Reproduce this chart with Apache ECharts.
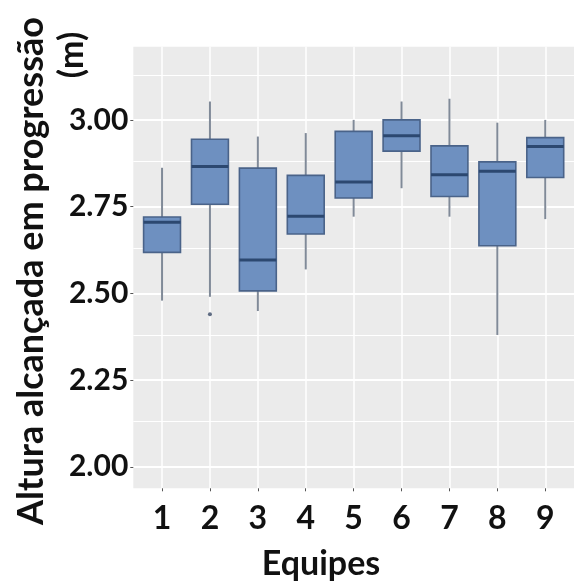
<!DOCTYPE html>
<html>
<head>
<meta charset="utf-8">
<script src="https://cdn.jsdelivr.net/npm/echarts@6/dist/echarts.min.js"></script>
<style>
html,body{margin:0;padding:0;background:#fff;}
#chart{width:574px;height:581px;}
</style>
</head>
<body>
<div id="chart"></div>
<script>
// ---- data ----
const teams = [1, 2, 3, 4, 5, 6, 7, 8, 9];
const whiskerLow  = [2.479, 2.490, 2.449, 2.569, 2.721, 2.803, 2.721, 2.380, 2.714];
const q1          = [2.618, 2.757, 2.507, 2.671, 2.775, 2.910, 2.779, 2.637, 2.834];
const medians     = [2.705, 2.866, 2.596, 2.722, 2.821, 2.954, 2.842, 2.852, 2.923];
const q3          = [2.720, 2.944, 2.861, 2.840, 2.967, 3.000, 2.925, 2.879, 2.949];
const whiskerHigh = [2.862, 3.053, 2.952, 2.962, 3.000, 3.053, 3.061, 2.992, 3.000];
const outlierTeams  = [2];
const outlierValues = [2.440];
const yTicks = [2.00, 2.25, 2.50, 2.75, 3.00];
const yMinorTicks = [2.125, 2.375, 2.625, 2.875, 3.125];
const yTitle1 = 'Altura alcançada em progressão';
const yTitle2 = '(m)';
const xTitle = 'Equipes';

const boxData = teams.map((t, i) => [t, whiskerLow[i], q1[i], medians[i], q3[i], whiskerHigh[i]]);
const outlierData = outlierTeams.map((t, i) => [t, outlierValues[i]]);

const FONT = 'Lato, "Open Sans", sans-serif';
const chart = echarts.init(document.getElementById('chart'), null, {renderer: 'canvas'});

const option = {
  backgroundColor: '#ffffff',
  animation: false,
  grid: {
    left: 133.3, top: 46.7, width: 451.9, bottom: 92.7,
    show: true, backgroundColor: '#ebebeb', borderWidth: 0
  },
  xAxis: {
    type: 'value', min: 0.4, max: 9.6,
    axisLine: {show: false},
    axisTick: {show: true, length: 3, lineStyle: {color: '#555', width: 1}, customValues: teams},
    axisLabel: {
      customValues: teams, margin: 14,
      fontFamily: FONT, fontWeight: 'bold', fontSize: 32, color: '#111'
    },
    splitLine: {show: true, lineStyle: {color: '#ffffff', width: 1.5}}
  },
  yAxis: {
    type: 'value', min: 1.938, max: 3.211,
    axisLine: {show: false},
    axisTick: {show: true, length: 3, lineStyle: {color: '#555', width: 1}, customValues: yTicks},
    axisLabel: {
      customValues: yTicks, margin: 5,
      formatter: v => v.toFixed(2),
      fontFamily: FONT, fontWeight: 'bold', fontSize: 30, color: '#111'
    },
    splitLine: {show: true, lineStyle: {color: '#ffffff', width: 2}}
  },
  series: [
    {
      type: 'scatter',
      z: 1,
      data: outlierData,
      symbolSize: 4,
      itemStyle: {color: '#3a4a66'},
      markLine: {
        z: 1,
        silent: true,
        animation: false,
        symbol: ['none', 'none'],
        label: {show: false},
        lineStyle: {color: '#ffffff', width: 1, type: 'solid'},
        emphasis: {disabled: true},
        data: yMinorTicks.map(v => ({yAxis: v}))
      }
    },
    {
      type: 'custom',
      z: 4,
      data: boxData,
      encode: {x: 0, y: [1, 2, 3, 4, 5]},
      clip: false,
      renderItem: function (params, api) {
        const x = api.value(0);
        const pLo = api.coord([x, api.value(1)]);
        const pQ1 = api.coord([x, api.value(2)]);
        const pMed = api.coord([x, api.value(3)]);
        const pQ3 = api.coord([x, api.value(4)]);
        const pHi = api.coord([x, api.value(5)]);
        const w = api.size([0.77, 0])[0];
        const cx = pQ1[0];
        return {
          type: 'group',
          children: [
            {type: 'line', shape: {x1: cx, y1: pLo[1], x2: cx, y2: pQ1[1]},
             style: {stroke: '#808a98', lineWidth: 2}},
            {type: 'line', shape: {x1: cx, y1: pQ3[1], x2: cx, y2: pHi[1]},
             style: {stroke: '#808a98', lineWidth: 2}},
            {type: 'rect', shape: {x: cx - w / 2, y: pQ3[1], width: w, height: pQ1[1] - pQ3[1]},
             style: {fill: '#6e90c0', stroke: '#4a6389', lineWidth: 1.6}},
            {type: 'line', shape: {x1: cx - w / 2, y1: pMed[1], x2: cx + w / 2, y2: pMed[1]},
             style: {stroke: '#2c4870', lineWidth: 3}}
          ]
        };
      }
    }
  ],
  graphic: [
    {type: 'text', x: 31, y: 271, rotation: Math.PI / 2,
     style: {text: yTitle1, font: 'bold 36px ' + FONT, fill: '#111',
             align: 'center', verticalAlign: 'middle', textAlign: 'center', textVerticalAlign: 'middle'}},
    {type: 'text', x: 72, y: 55, rotation: Math.PI / 2,
     style: {text: yTitle2, font: 'bold 34px ' + FONT, fill: '#111',
             align: 'center', verticalAlign: 'middle', textAlign: 'center', textVerticalAlign: 'middle'}},
    {type: 'text', x: 321, y: 564,
     style: {text: xTitle, font: 'bold 34px ' + FONT, fill: '#111',
             align: 'center', verticalAlign: 'middle', textAlign: 'center', textVerticalAlign: 'middle'}}
  ]
};
chart.setOption(option);
</script>
</body>
</html>
